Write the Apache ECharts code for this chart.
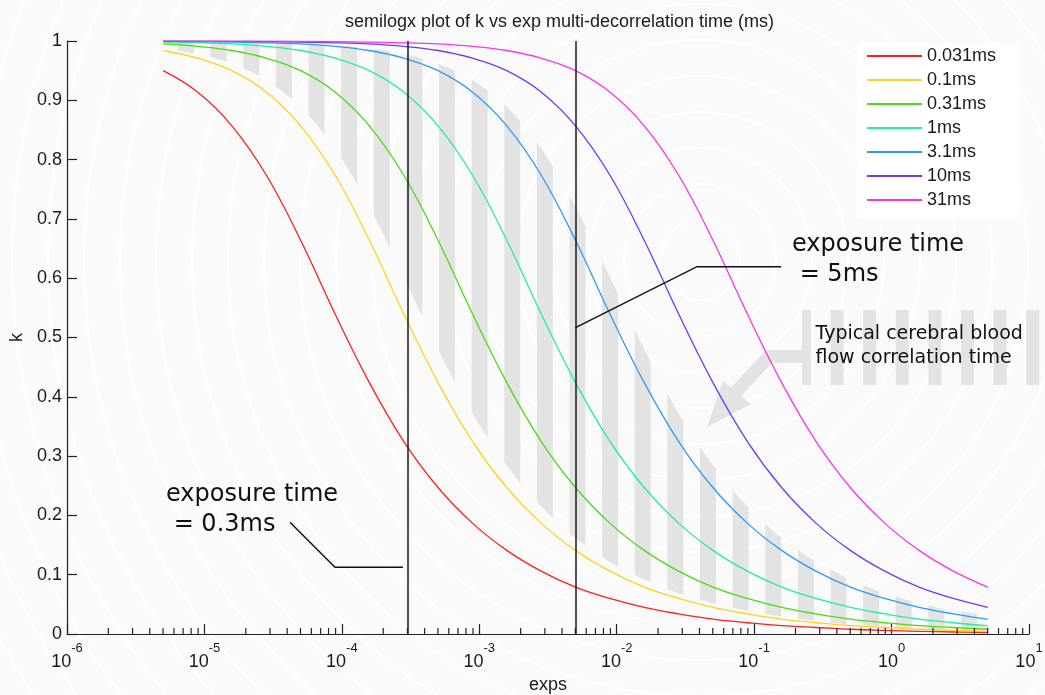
<!DOCTYPE html>
<html><head><meta charset="utf-8">
<script src="https://cdn.jsdelivr.net/npm/echarts@6/dist/echarts.min.js"></script>
<style>html,body{margin:0;padding:0;background:#fafafa}#c{width:1045px;height:695px}</style>
</head><body><div id="c"></div>
<script>
// ---- data ----
const exposures = [5.012e-6, 8.913e-6, 1.585e-5, 2.818e-5, 5.012e-5, 8.913e-5, 1.585e-4, 2.818e-4, 5.012e-4, 8.913e-4, 1.585e-3, 2.818e-3, 5.012e-3, 8.913e-3, 0.01585, 0.02818, 0.05012, 0.08913, 0.1585, 0.2818, 0.5012, 0.8913, 1.585, 2.818, 5.012];
const seriesNames = ['0.031ms', '0.1ms', '0.31ms', '1ms', '3.1ms', '10ms', '31ms'];
const k_0p031ms = [0.950,0.914,0.857,0.774,0.664,0.540,0.424,0.325,0.247,0.187,0.141,0.106,0.079,0.060,0.045,0.034,0.025,0.019,0.014,0.011,0.008,0.006,0.0045,0.0034,0.0025];
const k_0p1ms   = [0.984,0.971,0.950,0.914,0.857,0.774,0.664,0.540,0.424,0.325,0.247,0.187,0.141,0.106,0.079,0.060,0.045,0.034,0.025,0.019,0.014,0.011,0.008,0.006,0.0045];
const k_0p31ms  = [0.995,0.991,0.984,0.971,0.950,0.914,0.857,0.774,0.664,0.540,0.424,0.325,0.247,0.187,0.141,0.106,0.079,0.060,0.045,0.034,0.025,0.019,0.014,0.011,0.008];
const k_1ms     = [0.998,0.997,0.995,0.991,0.984,0.971,0.950,0.914,0.857,0.774,0.664,0.540,0.424,0.325,0.247,0.187,0.141,0.106,0.079,0.060,0.045,0.034,0.025,0.019,0.014];
const k_3p1ms   = [0.9995,0.999,0.998,0.997,0.995,0.991,0.984,0.971,0.950,0.914,0.857,0.774,0.664,0.540,0.424,0.325,0.247,0.187,0.141,0.106,0.079,0.060,0.045,0.034,0.025];
const k_10ms    = [0.9998,0.9997,0.9995,0.999,0.998,0.997,0.995,0.991,0.984,0.971,0.950,0.914,0.857,0.774,0.664,0.540,0.424,0.325,0.247,0.187,0.141,0.106,0.079,0.060,0.045];
const k_31ms    = [1.000,0.9999,0.9998,0.9997,0.9995,0.999,0.998,0.997,0.995,0.991,0.984,0.971,0.950,0.914,0.857,0.774,0.664,0.540,0.424,0.325,0.247,0.187,0.141,0.106,0.079];
// hatched "typical cerebral blood flow" band (lower / upper edge)
const bandLow  = [0.988,0.978,0.962,0.934,0.889,0.819,0.721,0.602,0.480,0.372,0.284,0.215,0.162,0.122,0.092,0.069,0.052,0.039,0.029,0.022,0.016,0.012,0.009,0.007,0.005];
const bandHigh = [0.9996,0.9993,0.9987,0.9978,0.996,0.993,0.988,0.978,0.962,0.934,0.889,0.819,0.721,0.602,0.480,0.372,0.284,0.215,0.162,0.122,0.092,0.069,0.052,0.039,0.029];
const exposureTimes = [3e-4, 5e-3];
const yTicks = [0, 0.1, 0.2, 0.3, 0.4, 0.5, 0.6, 0.7, 0.8, 0.9, 1];
const xDecades = [1e-6, 1e-5, 1e-4, 1e-3, 1e-2, 1e-1, 1];
const minorMultipliers = [2, 3, 4, 5, 6, 7, 8, 9];

// ---- styling ----
const curveColors = ['#ff1f1f', '#ffd21f', '#48dc14', '#22eea0', '#2d9cf0', '#6b3df0', '#ff33e6'];
const curves = [k_0p031ms, k_0p1ms, k_0p31ms, k_1ms, k_3p1ms, k_10ms, k_31ms];
const FONT = "'Liberation Sans', Arial, sans-serif";
const TXT = '#1a1a1a';

function stripes(barW) {
  const c = document.createElement('canvas'); c.width = 261; c.height = 8;
  const g = c.getContext('2d'); g.fillStyle = '#e3e3e3';
  for (let k = 0; k < 8; k++) { const x0 = (178 + 32.625 * k) % 261; g.fillRect(x0, 0, barW, 8); }
  return c;
}
const bandPattern = stripes(16);

const minorTicks = [];
xDecades.forEach(d => minorMultipliers.forEach(m => minorTicks.push(d * m)));

const series = [];
series.push({
  type: 'custom', name: 'band', silent: true, z: 1,
  data: [[exposures[0], bandLow[0]]],
  encode: { x: 0, y: 1 },
  renderItem: (params, api) => {
    const pts = exposures.map((t, i) => api.coord([t, bandHigh[i]]));
    for (let i = exposures.length - 1; i >= 0; i--) pts.push(api.coord([exposures[i], bandLow[i]]));
    return { type: 'polygon', shape: { points: pts, smooth: 0.3 }, style: { fill: { image: bandPattern, repeat: 'repeat' } } };
  }
});
curves.forEach((arr, j) => {
  const s = {
    type: 'line', name: seriesNames[j], z: 3,
    data: exposures.map((t, i) => [t, arr[i]]),
    smooth: 0.4, symbol: 'none', showSymbol: false,
    lineStyle: { color: curveColors[j], width: 1.3 },
    itemStyle: { color: curveColors[j] }
  };
  if (j === 0) {
    s.markLine = {
      silent: true, symbol: ['none', 'none'], label: { show: false }, animation: false,
      lineStyle: { color: '#1a1a1a', width: 1.5, type: 'solid' },
      emphasis: { disabled: true },
      data: exposureTimes.map(t => [{ coord: [t, 0] }, { coord: [t, 1] }])
    };
  }
  series.push(s);
});
series.push({
  type: 'custom', name: 'minorTicks', silent: true, z: 5, clip: false,
  data: minorTicks.map(v => [v, 0]),
  encode: { x: 0, y: 1 },
  renderItem: (params, api) => {
    const p = api.coord([api.value(0), 0]);
    return { type: 'line', shape: { x1: p[0], y1: p[1], x2: p[0], y2: p[1] - 6 }, style: { stroke: '#222', lineWidth: 1.2 } };
  }
});

// ---- decorations ----
const graphic = [];
for (let r = 40; r < 1100; r += 36) {
  graphic.push({ type: 'circle', silent: true, z: -1, shape: { cx: 700, cy: 260, r: r }, style: { fill: 'none', stroke: '#fefefe', lineWidth: 2 } });
}
for (let k = 19; k <= 26; k++) {
  const xl = 178 + 32.625 * k, x0 = Math.max(802, xl), x1 = xl + 13;
  if (x1 > x0) graphic.push({ type: 'rect', silent: true, z: 1, shape: { x: x0, y: 310, width: x1 - x0, height: 75 }, style: { fill: '#e3e3e3' } });
}
graphic.push({ type: 'polyline', silent: true, z: 1, shape: { points: [[802, 356.5], [769, 356.5], [735, 393]] }, style: { stroke: '#e3e3e3', lineWidth: 13, fill: 'none', lineJoin: 'miter' } });
graphic.push({ type: 'polygon', silent: true, z: 1, shape: { points: [[707, 427], [723, 381], [751, 404]] }, style: { fill: '#e3e3e3' } });
graphic.push({ type: 'polyline', silent: true, z: 10, shape: { points: [[403, 567.3], [335, 567.3], [290, 522.3]] }, style: { stroke: '#111', lineWidth: 1.5, fill: 'none' } });
graphic.push({ type: 'polyline', silent: true, z: 10, shape: { points: [[781, 266.7], [697, 266.7], [575.5, 327.7]] }, style: { stroke: '#111', lineWidth: 1.5, fill: 'none' } });
const annFont = "24px 'DejaVu Sans', sans-serif";
const annFont2 = "19px 'DejaVu Sans', sans-serif";
[['exposure time', 166, 494.4, annFont], [' = 0.3ms', 166, 524.4, annFont],
 ['exposure time', 792, 244.7, annFont], [' = 5ms', 792, 274.7, annFont],
 ['Typical cerebral blood', 815.5, 334.1, annFont2], ['flow correlation time', 815.5, 358.4, annFont2]
].forEach(([t, x, y, f]) => graphic.push({ type: 'text', silent: true, z: 10, style: { text: t, x: x, y: y, font: f, fill: '#111', textVerticalAlign: 'middle', verticalAlign: 'middle' } }));

const chart = echarts.init(document.getElementById('c'), null, { renderer: 'canvas', width: 1045, height: 695 });
chart.setOption({
  animation: false,
  backgroundColor: '#fafafa',
  title: {
    text: 'semilogx plot of k vs exp multi-decorrelation time (ms)',
    left: 554.5, textAlign: 'center', top: 8,
    textStyle: { fontSize: 18, fontWeight: 'normal', color: TXT, fontFamily: FONT }
  },
  legend: {
    data: seriesNames, orient: 'vertical', left: 857, top: 43,
    padding: [3, 24, 8, 10], backgroundColor: '#ffffff',
    icon: 'rect', itemWidth: 55, itemHeight: 2, itemGap: 4,
    textStyle: { fontSize: 18, color: TXT, fontFamily: FONT, lineHeight: 20 },
    selectedMode: false
  },
  grid: { left: 67, right: 16, top: 41, bottom: 61, containLabel: false, outerBoundsMode: 'none' },
  xAxis: {
    type: 'log', logBase: 10, min: 1e-6, max: 10, splitNumber: 7,
    name: 'exps', nameLocation: 'middle', nameGap: 42, nameMoveOverlap: false,
    nameTextStyle: { fontSize: 18, color: TXT, fontFamily: FONT },
    axisLine: { show: true, lineStyle: { color: '#222', width: 1.2 } },
    axisTick: { show: true, inside: true, length: 10, lineStyle: { color: '#222', width: 1.2 } },
    splitLine: { show: false },
    axisLabel: {
      interval: 0, margin: 17, showMinLabel: true, showMaxLabel: true, hideOverlap: false,
      formatter: v => '{b|10}{s|' + Math.round(Math.log10(v)) + '}',
      rich: {
        b: { fontSize: 18, lineHeight: 20, verticalAlign: 'bottom', color: TXT, fontFamily: FONT },
        s: { fontSize: 13, lineHeight: 13, verticalAlign: 'bottom', padding: [0, 0, 16, 0], color: TXT, fontFamily: FONT }
      }
    }
  },
  yAxis: {
    type: 'value', min: 0, max: 1, interval: 0.1,
    name: 'k', nameLocation: 'middle', nameGap: 41, nameRotate: 90, nameMoveOverlap: false,
    nameTextStyle: { fontSize: 18, color: TXT, fontFamily: FONT },
    axisLine: { show: true, lineStyle: { color: '#222', width: 1.2 } },
    axisTick: { show: true, inside: true, length: 10, lineStyle: { color: '#222', width: 1.2 } },
    splitLine: { show: false },
    axisLabel: {
      margin: 5, fontSize: 18, color: TXT, fontFamily: FONT,
      formatter: v => { const t = yTicks.find(q => Math.abs(q - v) < 1e-9); return t === undefined ? '' : String(t); }
    }
  },
  series: series,
  graphic: graphic
});
</script></body></html>
